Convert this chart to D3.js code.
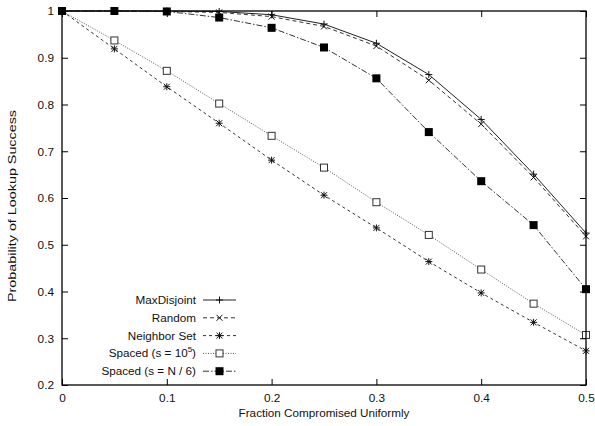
<!DOCTYPE html>
<html><head><meta charset="utf-8">
<script src="https://cdn.jsdelivr.net/npm/d3@7"></script>
<style>body{margin:0;background:#fff}text{font-family:"Liberation Sans",Arial,sans-serif;fill:#111}</style>
</head><body><svg id="c" width="595" height="426"></svg>
<script>
const xValues = [0,0.05,0.1,0.15,0.2,0.25,0.3,0.35,0.4,0.45,0.5];
const maxDisjoint = [1,1,1,0.999,0.992,0.972,0.931,0.864,0.768,0.651,0.525];
const randomSel = [1,1,0.999,0.997,0.988,0.967,0.925,0.852,0.758,0.644,0.518];
const neighborSet = [1,0.919,0.838,0.760,0.681,0.606,0.536,0.464,0.397,0.334,0.273];
const spacedE5 = [1,0.937,0.872,0.802,0.733,0.665,0.591,0.521,0.447,0.374,0.307];
const spacedN6 = [1,1,0.999,0.986,0.964,0.922,0.856,0.741,0.636,0.542,0.405];
const xTicks = [0,0.1,0.2,0.3,0.4,0.5];
const yTicks = [0.2,0.3,0.4,0.5,0.6,0.7,0.8,0.9,1];
const seriesNames = ["MaxDisjoint","Random","Neighbor Set","Spaced (s = 10^5)","Spaced (s = N / 6)"];

const svg = d3.select("#c");
const L=62,R=586,T=11,B=385;
const x = d3.scaleLinear().domain([0,0.5]).range([L,R]);
const y = d3.scaleLinear().domain([0.2,1]).range([B,T]);

const series = [
 {name:seriesNames[0], vals:maxDisjoint, dash:null, marker:"plus", color:"#222"},
 {name:seriesNames[1], vals:randomSel, dash:"4,3", marker:"cross", color:"#333"},
 {name:seriesNames[2], vals:neighborSet, dash:"3,3", marker:"star", color:"#333"},
 {name:seriesNames[3], vals:spacedE5, dash:"1,1.5", marker:"square", color:"#555"},
 {name:seriesNames[4], vals:spacedN6, dash:"6,2,1.5,2", marker:"fsquare", color:"#333"}
];

function marker(g, m, cx, cy){
  const s=3.5;
  if(m==="plus"||m==="star"){
    g.append("line").attr("x1",cx-s).attr("x2",cx+s).attr("y1",cy).attr("y2",cy).attr("stroke","#111").attr("stroke-width",1);
    g.append("line").attr("x1",cx).attr("x2",cx).attr("y1",cy-s).attr("y2",cy+s).attr("stroke","#111").attr("stroke-width",1);
  }
  if(m==="cross"||m==="star"){
    const t=3;
    g.append("line").attr("x1",cx-t).attr("x2",cx+t).attr("y1",cy-t).attr("y2",cy+t).attr("stroke","#111").attr("stroke-width",1);
    g.append("line").attr("x1",cx-t).attr("x2",cx+t).attr("y1",cy+t).attr("y2",cy-t).attr("stroke","#111").attr("stroke-width",1);
  }
  if(m==="square"){
    g.append("rect").attr("x",cx-3.5).attr("y",cy-3.5).attr("width",7).attr("height",7).attr("fill","#fff").attr("stroke","#333").attr("stroke-width",1);
  }
  if(m==="fsquare"){
    g.append("rect").attr("x",cx-4).attr("y",cy-4).attr("width",8).attr("height",8).attr("fill","#000");
  }
}

// lines
const line = d3.line().x((d,i)=>x(xValues[i])).y(d=>y(d));
series.forEach(s=>{
  svg.append("path").datum(s.vals).attr("d",line).attr("fill","none")
    .attr("stroke",s.color).attr("stroke-width",1).attr("stroke-dasharray",s.dash);
});
series.forEach(s=>{
  const g=svg.append("g");
  s.vals.forEach((v,i)=>marker(g,s.marker,x(xValues[i]),y(v)));
});

// frame
svg.append("rect").attr("x",L).attr("y",T).attr("width",R-L).attr("height",B-T)
  .attr("fill","none").attr("stroke","#000").attr("stroke-width",1.3);

// axes
const xAxis = d3.axisBottom(x).tickValues(xTicks).tickFormat(d3.format("")).tickSizeInner(-6).tickSizeOuter(0).tickPadding(9);
const gx = svg.append("g").attr("transform",`translate(0,${B})`).call(xAxis);
const yAxis = d3.axisLeft(y).tickValues(yTicks).tickFormat(d=>d===1?"1":d3.format(".1f")(d)).tickSizeInner(-6).tickSizeOuter(0).tickPadding(8);
const gy = svg.append("g").attr("transform",`translate(${L},0)`).call(yAxis);
// mirrored ticks
svg.append("g").attr("transform",`translate(0,${T})`).call(d3.axisTop(x).tickValues(xTicks).tickFormat("").tickSizeInner(-6).tickSizeOuter(0));
svg.append("g").attr("transform",`translate(${R},0)`).call(d3.axisRight(y).tickValues(yTicks).tickFormat("").tickSizeInner(-6).tickSizeOuter(0));
svg.selectAll(".domain").remove();
svg.selectAll(".tick line").attr("stroke","#000");
svg.selectAll(".tick text").style("font-size","11.8px").style("font-family","'Liberation Sans',Arial,sans-serif").attr("fill","#111");

// axis titles
svg.append("text").attr("x",324).attr("y",417).attr("text-anchor","middle").style("font-size","11.7px").text("Fraction Compromised Uniformly");
svg.append("text").attr("transform",`translate(16,206) rotate(-90)`).attr("text-anchor","middle").style("font-size","11.7px")
  .attr("textLength",192).attr("lengthAdjust","spacingAndGlyphs").text("Probability of Lookup Success");

// legend
const ly0=300, ldy=17.8, lx=196;
series.forEach((s,i)=>{
  const yy=ly0+i*ldy;
  const t=svg.append("text").attr("x",lx).attr("y",yy+4).attr("text-anchor","end").style("font-size","11.7px");
  if(i===3){
    t.append("tspan").text("Spaced (s = 10");
    t.append("tspan").attr("dy",-5).style("font-size","8px").text("5");
    t.append("tspan").attr("dy",5).text(")");
  } else t.text(s.name);
  svg.append("line").attr("x1",lx+7).attr("x2",lx+40).attr("y1",yy).attr("y2",yy)
    .attr("stroke",s.color).attr("stroke-width",1).attr("stroke-dasharray",s.dash);
  marker(svg.append("g"),s.marker,lx+23.5,yy);
});
</script></body></html>
